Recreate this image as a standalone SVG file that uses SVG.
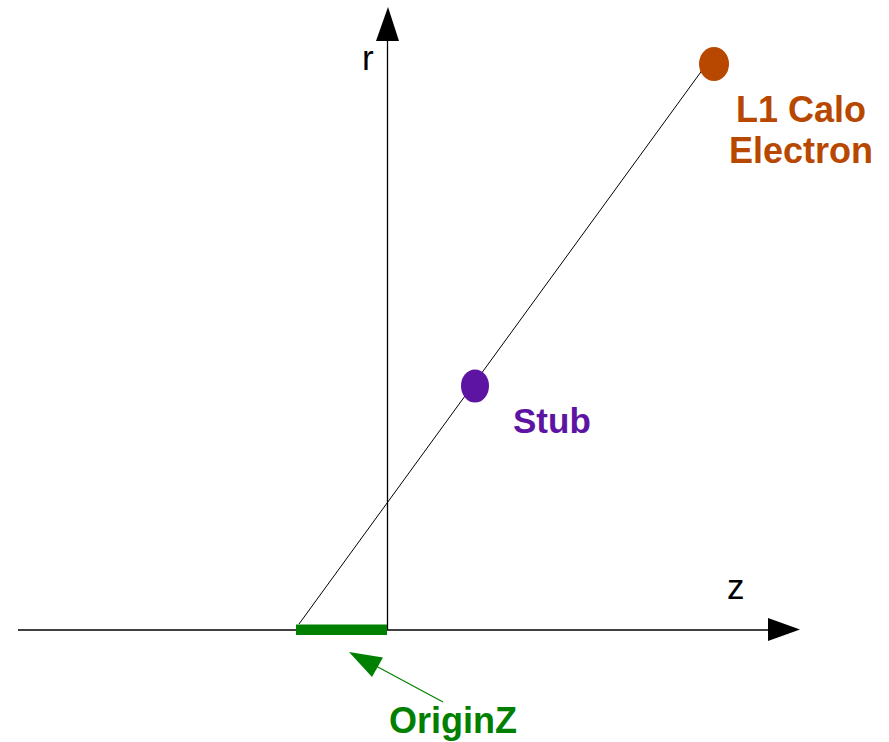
<svg xmlns="http://www.w3.org/2000/svg" width="889" height="742" viewBox="0 0 889 742">
<style>
.lbl{font-family:"Liberation Sans",Arial,sans-serif;font-weight:bold;font-size:35px}
.ax{font-family:"Liberation Sans",Arial,sans-serif;font-size:35px;fill:#000}
.axis{stroke:#000;stroke-width:1.3;fill:none}
</style>
<rect width="889" height="742" fill="#fff"/>
<g id="connectors">
  <line class="axis" x1="18" y1="630" x2="770" y2="630"/>
  <polygon points="768,618 800,629.5 768,641" fill="#000"/>
  <line class="axis" x1="387.5" y1="630" x2="387.5" y2="40"/>
  <polygon points="376,41 388,7 399,41" fill="#000"/>
  <line x1="299" y1="624" x2="703" y2="69" stroke="#000" stroke-width="1"/>
  <line x1="443" y1="702" x2="376" y2="666" stroke="#008000" stroke-width="1.2"/>
  <polygon points="349,652 383,657.5 372,677" fill="#008000"/>
</g>
<g id="r-label"><text class="ax" x="362" y="70">r</text></g>
<g id="z-label"><text class="ax" x="727" y="599">z</text></g>
<g id="originz">
  <rect x="296" y="624.5" width="91" height="10.5" fill="#008000"/>
  <text class="lbl" x="453" y="733" text-anchor="middle" fill="#008000" style="font-size:36px">OriginZ</text>
</g>
<g id="stub">
  <ellipse cx="475" cy="386" rx="14" ry="16.5" fill="#5e14a3"/>
  <text class="lbl" x="513" y="433" fill="#5e14a3">Stub</text>
</g>
<g id="electron">
  <ellipse cx="714" cy="64" rx="15" ry="17" fill="#b84800"/>
  <text class="lbl" x="801" y="122" text-anchor="middle" fill="#b84800" style="font-size:36px">L1 Calo</text>
  <text class="lbl" x="801" y="163" text-anchor="middle" fill="#b84800" style="font-size:36px">Electron</text>
</g>
</svg>
